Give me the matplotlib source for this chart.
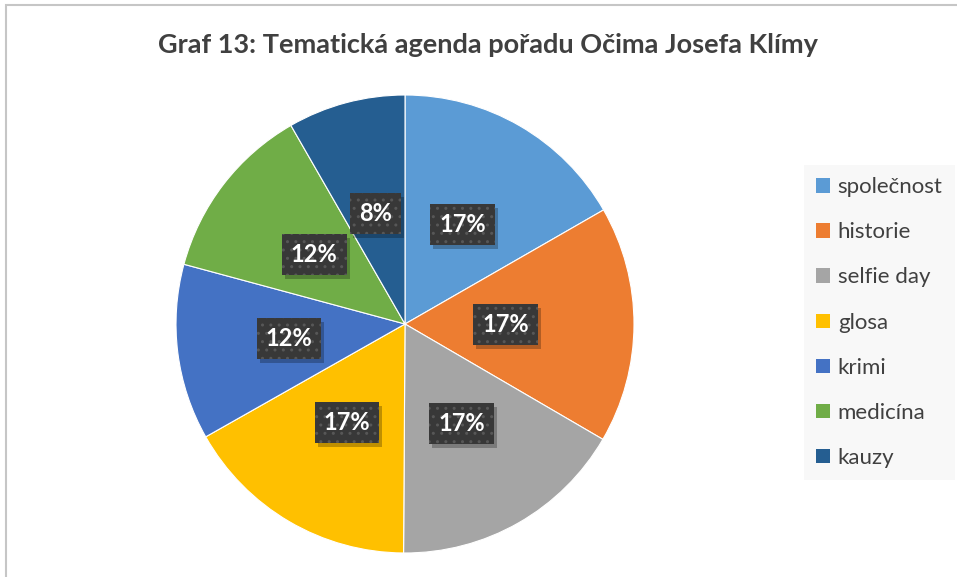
import matplotlib
matplotlib.use("Agg")
import matplotlib.pyplot as plt
import numpy as np
from matplotlib.patches import Rectangle

# data (slice sizes estimated from the angles, labels as printed)
temata = ['společnost', 'historie', 'selfie day', 'glosa', 'krimi', 'medicína', 'kauzy']
podily = [16.7, 16.7, 16.7, 16.7, 12.4, 12.5, 8.3]
popisky = ['17%', '17%', '17%', '17%', '12%', '12%', '8%']
barvy = ['#5B9BD5', '#ED7D31', '#A5A5A5', '#FFC000', '#4472C4', '#70AD47', '#255E91']

plt.rcParams['font.family'] = ['Lato', 'DejaVu Sans']

W, H = 957, 577
fig = plt.figure(figsize=(W / 100, H / 100), dpi=100)
fig.patch.set_facecolor('white')

# thin grey frame of the chart area (top and left edges visible)
fig.patches.append(Rectangle((6 / W, -0.1), 1.2, 1 - 5 / H + 0.1, transform=fig.transFigure,
                             facecolor='none', edgecolor='#c6c6c6', linewidth=1.5))

fig.text(488 / W, 1 - 45 / H, 'Graf 13: Tematická agenda pořadu Očima Josefa Klímy',
         ha='center', va='center', fontsize=19.5, fontweight='bold', color='#404040')

# pie centre (405, 324), radius 229 px
cx, cy, r = 405, 324, 229
ax = fig.add_axes([(cx - r) / W, (H - cy - r) / H, 2 * r / W, 2 * r / H])
wedges, texts = ax.pie(podily, colors=barvy, startangle=90, counterclock=False, radius=1,
                       wedgeprops=dict(edgecolor='white', linewidth=0.8))
ax.set_xlim(-1, 1)
ax.set_ylim(-1, 1)
ax.set_aspect('auto')
ax.axis('off')

# percentage labels in dark dotted boxes
vzdalenosti = [0.5, 0.44, 0.5, 0.5, 0.51, 0.5, 0.5]
stitky = []
for w, txt, d in zip(wedges, popisky, vzdalenosti):
    a = np.deg2rad((w.theta1 + w.theta2) / 2)
    t = ax.text(d * np.cos(a), d * np.sin(a), txt, ha='center', va='center', fontsize=17,
                fontweight='bold', color='white', zorder=5,
                bbox=dict(boxstyle='square,pad=0.38', facecolor='#383838', edgecolor='#575757',
                          hatch='..', linewidth=0))
    stitky.append(t)

# soft shadow under each label box
fig.canvas.draw()
for t in stitky:
    bb = t.get_bbox_patch().get_window_extent()
    ax.add_patch(Rectangle((bb.x0 + 3, bb.y0 - 4), bb.width, bb.height, transform=None,
                           facecolor='black', alpha=0.25, linewidth=0, zorder=4))

leg = fig.legend(wedges, temata, loc='upper left', bbox_to_anchor=(804 / W, 1 - 165 / H),
                 frameon=True, fontsize=16, labelspacing=1.13, handlelength=0.62,
                 handleheight=0.62, handletextpad=0.35, borderpad=0.55, borderaxespad=0)
leg.get_frame().set_facecolor('#f7f7f7')
leg.get_frame().set_edgecolor('none')
leg.get_frame().set_boxstyle('square', pad=0)
for t in leg.get_texts():
    t.set_color('#404040')
for h in leg.legend_handles:
    h.set_edgecolor('none')

fig.savefig('out.png', dpi=100, facecolor='white')
